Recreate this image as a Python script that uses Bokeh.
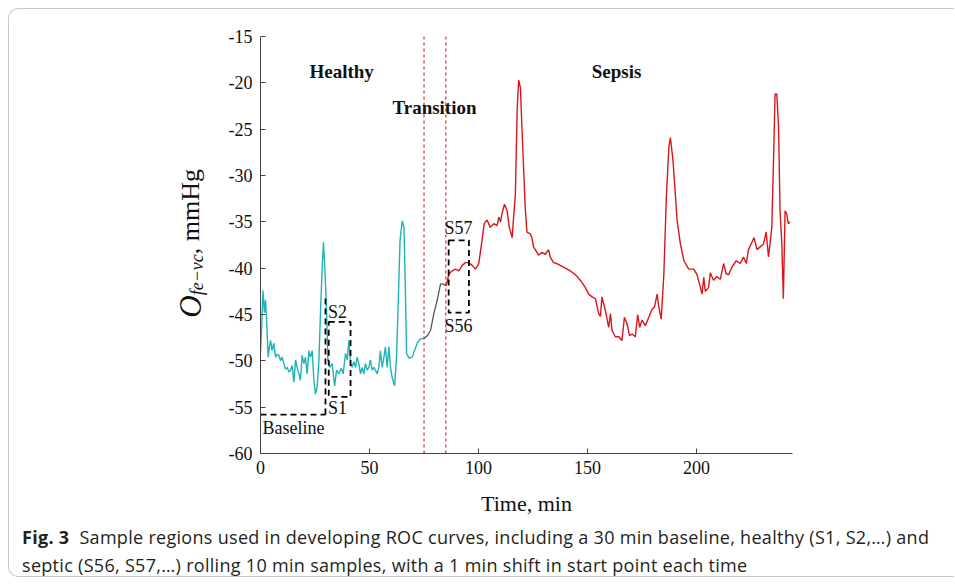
from bokeh.plotting import figure
from bokeh.models import Label, FixedTicker, Range1d, Div
from bokeh.layouts import column, row
from bokeh.embed import file_html
from bokeh.resources import INLINE

# ---------------- data ----------------
healthy_t = [0, 0.6, 1.1, 1.8, 2.3, 2.8, 3.5, 4.2, 4.6, 5.3, 6.1, 6.9, 7.6, 8.4, 9.2, 9.9,
             10.7, 11.5, 12.2, 13.0, 13.8, 14.5, 15.3, 16.1, 16.8, 17.6, 18.3, 19.1, 19.9,
             20.6, 21.4, 22.2, 22.9, 23.7, 24.5, 25.2, 26.0, 26.8, 27.5, 28.3, 28.9, 29.6,
             30.3, 30.9, 31.8, 32.9, 34.0, 34.9, 36.0, 37.0, 37.9, 39.0, 39.8, 40.5, 41.3,
             42.0, 42.8, 43.6, 44.3, 45.1, 45.9, 46.6, 47.4, 48.1, 48.9, 49.7, 50.4, 51.2,
             52.0, 52.7, 53.5, 54.3, 55.0, 55.8, 56.6, 57.3, 58.1, 58.9, 59.6, 60.4, 61.5,
             62.4, 63.2, 64.0, 65.0, 65.8, 66.4, 67.0, 68.1, 69.6, 70.6, 71.9, 73.4, 75.0]
healthy_v = [-49.2, -46.0, -42.4, -44.8, -43.4, -45.6, -49.6, -48.3, -47.8, -48.9, -48.1, -49.6,
             -49.3, -49.4, -50.0, -49.6, -50.3, -50.9, -50.7, -51.2, -51.0, -50.5, -52.3, -49.9,
             -50.7, -51.4, -52.1, -49.4, -50.3, -49.6, -51.4, -48.9, -49.6, -48.9, -52.1, -53.6,
             -52.8, -49.9, -44.9, -39.9, -37.2, -40.5, -44.6, -49.9, -50.7, -50.3, -52.7, -51.0,
             -51.4, -50.8, -51.4, -49.2, -49.9, -47.8, -50.3, -50.7, -50.1, -50.7, -49.6, -50.3,
             -51.4, -50.7, -51.4, -50.3, -51.0, -50.7, -49.9, -51.0, -50.7, -51.0, -51.4, -50.7,
             -48.9, -50.7, -49.6, -48.5, -50.7, -48.5, -50.7, -51.8, -52.7, -49.6, -43.5, -37.0,
             -34.9, -35.6, -41.7, -49.2, -49.7, -49.6, -48.9, -48.1, -47.6, -47.6]

transition_t = [75.0, 76.5, 78.0, 79.5, 81.0, 82.6, 83.8, 85.0]
transition_v = [-47.6, -47.3, -46.7, -44.9, -43.5, -41.7, -41.7, -41.9]

sepsis_t = [85.0, 85.6, 86.4, 87.9, 89.4, 91.0, 92.5, 94.0, 95.5, 97.1, 98.6, 100.1, 101.6,
            102.6, 103.9, 105.4, 107.0, 108.5, 109.3, 110.1, 110.8, 111.9, 113.1, 114.1,
            115.4, 116.9, 117.7, 118.4, 119.2, 119.9, 121.4, 122.2, 123.7, 124.5, 125.2,
            126.8, 127.5, 129.1, 130.6, 132.1, 132.9, 134.4, 135.9, 137.5, 139.8, 142.1,
            144.4, 146.7, 149.0, 150.5, 152.1, 153.6, 155.1, 155.9, 156.6, 158.2, 159.7,
            160.5, 161.2, 162.7, 164.3, 165.8, 166.9, 168.1, 169.3, 170.4, 171.9, 173.0,
            173.9, 175.0, 176.5, 178.1, 179.6, 180.7, 181.9, 182.7, 183.8, 185.0, 186.2,
            187.3, 188.0, 189.2, 191.1, 192.6, 194.2, 196.4, 198.7, 200.2, 201.8, 202.5,
            203.3, 204.0, 205.5, 206.3, 207.8, 209.3, 210.9, 212.4, 213.6, 214.7, 216.2,
            218.2, 220.0, 221.5, 222.8, 223.8, 225.4, 226.4, 227.7, 229.2, 230.7, 231.9,
            233.0, 234.5, 235.3, 236.0, 236.8, 237.6, 238.3, 239.1, 239.8, 240.6, 241.3,
            242.1, 242.8]
sepsis_v = [-41.9, -41.5, -40.6, -40.3, -40.1, -40.3, -39.7, -39.4, -39.4, -39.7, -40.1, -39.5,
            -37.0, -35.2, -34.8, -35.6, -35.2, -35.4, -34.5, -35.0, -34.1, -33.1, -33.8, -35.6,
            -36.7, -32.0, -23.0, -19.7, -20.5, -24.8, -33.4, -36.1, -36.3, -36.7, -37.7, -38.3,
            -38.6, -38.3, -38.5, -38.0, -38.8, -39.4, -39.5, -39.7, -40.0, -40.3, -40.7, -41.3,
            -42.1, -42.8, -43.1, -43.3, -44.9, -45.2, -43.1, -44.6, -46.4, -44.9, -46.7, -47.4,
            -47.4, -47.8, -45.3, -46.0, -47.3, -47.1, -47.4, -45.0, -46.4, -45.6, -46.2, -45.3,
            -44.4, -44.2, -42.8, -44.2, -45.5, -40.6, -32.0, -26.9, -25.9, -28.4, -34.9, -37.4,
            -39.2, -40.1, -40.1, -40.7, -42.1, -42.8, -41.0, -42.5, -42.1, -40.5, -41.3, -40.9,
            -41.2, -39.5, -40.6, -40.7, -39.9, -39.2, -39.5, -38.8, -39.5, -38.0, -37.2, -36.7,
            -38.0, -37.7, -37.4, -36.1, -38.8, -35.6, -28.4, -21.2, -21.2, -24.8, -33.8, -37.4,
            -43.3, -33.8, -34.1, -35.2, -35.0]

phase_bounds = [75, 85]                # red dashed vertical lines (min)

# sample windows (min, mmHg)
baseline_t = [0, 29.8]
baseline_v = -55.8
s1_edge_t = 29.8
s1_edge_v = [-55.8, -43.2]
box_left = [31.3, 86.3]
box_right = [41.3, 95.6]
box_bottom = [-53.9, -44.8]
box_top = [-45.8, -37.0]

x_ticks = [0, 50, 100, 150, 200]
y_ticks = [-60, -55, -50, -45, -40, -35, -30, -25, -20, -15]
y_tick_labels = ["-60", "-55", "-50", "-45", "-40", "-35", "-30", "-25", "-20", "-15"]

caption_bold = "Fig. 3"
caption1 = "Sample regions used in developing ROC curves, including a 30 min baseline, healthy (S1, S2,\u2026) and"
caption2 = "septic (S56, S57,\u2026) rolling 10 min samples, with a 1 min shift in start point each time"

SERIF = "Liberation Serif"
LEFT_W = 206
PLOT_H = 520

# ---------------- figure ----------------
p = figure(width=955 - LEFT_W, height=PLOT_H, output_backend="svg", toolbar_location=None,
           x_range=Range1d(0, 244), y_range=Range1d(-60, -15),
           min_border_left=260 - LEFT_W, min_border_right=163, min_border_top=36,
           min_border_bottom=PLOT_H - 453, margin=0)
p.outline_line_color = None
p.xgrid.visible = False
p.ygrid.visible = False
p.background_fill_color = "white"
p.border_fill_alpha = 0

for ax in (p.xaxis[0], p.yaxis[0]):
    ax.axis_line_color = "#444444"
    ax.major_tick_line_color = "#444444"
    ax.major_tick_in = 5
    ax.major_tick_out = 0
    ax.minor_tick_line_color = None
    ax.major_label_text_font = SERIF
    ax.major_label_text_font_size = "18px"
    ax.major_label_text_color = "#111111"

p.xaxis.ticker = FixedTicker(ticks=x_ticks)
p.yaxis.ticker = FixedTicker(ticks=y_ticks)
p.yaxis.major_label_overrides = {t: s for t, s in zip(y_ticks, y_tick_labels)}
p.xaxis.major_label_standoff = 7
p.yaxis.major_label_standoff = 8

p.xaxis.axis_label = "Time, min"
p.xaxis.axis_label_text_font = SERIF
p.xaxis.axis_label_text_font_size = "22px"
p.xaxis.axis_label_text_font_style = "normal"
p.xaxis.axis_label_text_color = "#111111"
p.xaxis.axis_label_standoff = 14

# phase boundaries
for b in phase_bounds:
    p.line([b, b], [-60, -15], line_color="#e0393b", line_dash="3 3", line_width=1.3)

# series
p.line(healthy_t, healthy_v, line_color="#1fb3b8", line_width=1.4)
p.line(transition_t, transition_v, line_color="#555555", line_width=1.3)
p.line(sepsis_t, sepsis_v, line_color="#d9161c", line_width=1.4)

# sample windows
dash = "6 4"
p.line(baseline_t, [baseline_v, baseline_v], line_color="black", line_dash=dash, line_width=1.8)
p.line([s1_edge_t, s1_edge_t], s1_edge_v, line_color="black", line_dash=dash, line_width=1.8)
p.quad(left=box_left, right=box_right, bottom=box_bottom, top=box_top,
       fill_alpha=0, line_color="black", line_dash=dash, line_width=1.8)

def lab(x, y, text, size="18px", style="normal"):
    p.add_layout(Label(x=x, y=y, text=text, text_font=SERIF, text_font_size=size,
                       text_font_style=style, text_align="center", text_baseline="middle",
                       text_color="#111111"))

lab(35.3, -44.7, "S2")
lab(35.3, -55.1, "S1")
lab(15.1, -57.2, "Baseline")
lab(90.8, -35.7, "S57")
lab(90.8, -46.2, "S56")

lab(37.2, -18.8, "Healthy", size="19px", style="bold")
lab(79.8, -22.7, "Transition", size="19px", style="bold")
lab(163.3, -18.8, "Sepsis", size="19px", style="bold")

# ---------------- y-axis label (rotated HTML text) ----------------
ylab_html = (
    f'<div style="width:{LEFT_W}px;height:486px;display:flex;align-items:center;'
    'justify-content:flex-end;">'
    '<div style="writing-mode:vertical-rl;transform:rotate(180deg);'
    "font-family:'Liberation Serif';font-size:26px;color:#111;white-space:nowrap;"
    'line-height:1;margin-right:0px;">'
    '<i style="font-size:31px">O</i><sub style="font-size:18px;vertical-align:-6px">'
    '<i>fe\u2212vc</i></sub>, mmHg</div></div>'
)
ylab = Div(text=ylab_html, width=LEFT_W, height=PLOT_H, margin=0)

# ---------------- caption + panel border ----------------
cap_h = 584 - PLOT_H
cap_html = (
    f'<div style="position:absolute;left:8px;top:{8 - PLOT_H}px;width:946px;height:569px;'
    'border:1px solid #c8c8c8;border-right:none;border-radius:10px 0 0 10px;'
    'pointer-events:none;"></div>'
    '<div style="padding:3px 0 0 22px;font-family:\'Open Sans\';font-size:18px;'
    'letter-spacing:0.3px;line-height:28px;color:#231f20;white-space:nowrap;">'
    f'<b>{caption_bold}</b>&nbsp;&nbsp;{caption1}<br>{caption2}</div>'
)
cap = Div(text=cap_html, width=955, height=cap_h, margin=0, styles={"overflow": "visible"})

layout = column(row(ylab, p, margin=0), cap, margin=0)

open("out.html", "w").write(file_html(layout, INLINE))
